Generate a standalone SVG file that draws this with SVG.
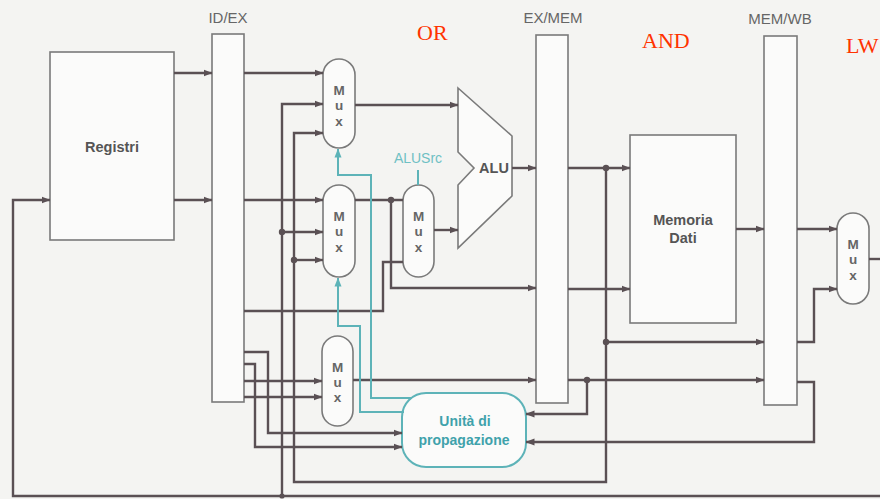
<svg xmlns="http://www.w3.org/2000/svg" width="880" height="499" viewBox="0 0 880 499">
<defs>
<style>
.w{fill:none;stroke:#5a5054;stroke-width:2.4;stroke-linejoin:miter}
.t{fill:none;stroke:#5db3b8;stroke-width:2}
.box{fill:#fbfbfa;stroke:#7a7a7a;stroke-width:1.6}
.dot{fill:#5a5054}
.sans{font-family:"Liberation Sans",Arial,sans-serif}
.lab{font-family:"Liberation Sans",Arial,sans-serif;font-size:15px;fill:#666;text-anchor:middle}
.bl{font-family:"Liberation Sans",Arial,sans-serif;font-size:14.5px;font-weight:bold;fill:#555;text-anchor:middle}
.mx{font-family:"Liberation Sans",Arial,sans-serif;font-size:13.5px;font-weight:bold;fill:#666;text-anchor:middle}
.red{font-family:"Liberation Serif","Times New Roman",serif;font-size:22px;fill:#ff3300}
.teal{font-family:"Liberation Sans",Arial,sans-serif;font-size:14px;font-weight:bold;fill:#3fa2ab;text-anchor:middle}
</style>
<marker id="a" markerUnits="userSpaceOnUse" markerWidth="9" markerHeight="8" refX="8.5" refY="4" orient="auto">
<path d="M0,0.5 L9,4 L0,7.5 z" fill="#5a5054"/>
</marker>
<marker id="at" markerUnits="userSpaceOnUse" markerWidth="9" markerHeight="8" refX="8.5" refY="4" orient="auto">
<path d="M0,0.5 L9,4 L0,7.5 z" fill="#5db3b8"/>
</marker>
</defs>
<rect x="0" y="0" width="880" height="499" fill="#f4f4f2"/>

<g id="labels">
<text class="lab" x="228" y="23">ID/EX</text>
<text class="lab" x="553" y="23">EX/MEM</text>
<text class="lab" x="780" y="24">MEM/WB</text>
<text class="red" x="417" y="40">OR</text>
<text class="red" x="642" y="48">AND</text>
<text class="red" x="846" y="53" font-size="21">LW</text>
</g>

<g id="registri">
<rect class="box" x="50" y="52" width="124" height="188"/>
<text class="bl" x="112" y="152">Registri</text>
</g>
<g id="idex"><rect class="box" x="212" y="34" width="32" height="368"/></g>
<g id="exmem"><rect class="box" x="536" y="35" width="32" height="368"/></g>
<g id="memwb"><rect class="box" x="764" y="36" width="33" height="369"/></g>
<g id="memoria">
<rect class="box" x="630" y="135" width="106" height="188"/>
<text class="bl" x="683" y="225">Memoria</text>
<text class="bl" x="683" y="243">Dati</text>
</g>
<g id="alu">
<polygon class="box" points="458,88 512,136 512,196 458,248 458,185 474,168 458,152"/>
<text class="bl" x="494" y="173">ALU</text>
</g>
<g id="mux1">
<rect class="box" x="323" y="59" width="32" height="89" rx="16"/>
<text class="mx" x="339" y="95">M</text><text class="mx" x="339" y="110">u</text><text class="mx" x="339" y="126">x</text>
</g>
<g id="mux2">
<rect class="box" x="323" y="185" width="32" height="92" rx="16"/>
<text class="mx" x="339" y="221">M</text><text class="mx" x="339" y="236">u</text><text class="mx" x="339" y="252">x</text>
</g>
<g id="mux4">
<rect class="box" x="403" y="185" width="31" height="92" rx="15.5"/>
<text class="mx" x="418.5" y="221">M</text><text class="mx" x="418.5" y="236">u</text><text class="mx" x="418.5" y="252">x</text>
</g>
<g id="mux3">
<rect class="box" x="322" y="336" width="31" height="90" rx="15.5"/>
<text class="mx" x="337.5" y="372">M</text><text class="mx" x="337.5" y="387">u</text><text class="mx" x="337.5" y="402">x</text>
</g>
<g id="muxwb">
<rect class="box" x="837" y="213" width="32" height="91" rx="16"/>
<text class="mx" x="853" y="249">M</text><text class="mx" x="853" y="264">u</text><text class="mx" x="853" y="280">x</text>
</g>
<g id="alusrc">
<text class="sans" x="418" y="163" font-size="14" fill="#6fc0c4" text-anchor="middle">ALUSrc</text>
</g>
<g id="forward">
<rect x="402" y="393" width="124" height="74" rx="24" fill="#fbfbfa" stroke="#5db3b8" stroke-width="2"/>
<text class="teal" x="465" y="426">Unità di</text>
<text class="teal" x="464" y="445">propagazione</text>
</g>

<g id="connectors">
<path class="w" d="M174,73 H212" marker-end="url(#a)"/>
<path class="w" d="M174,200 H212" marker-end="url(#a)"/>
<path class="w" d="M880,496 H13 V200 H50" marker-end="url(#a)"/>
<path class="w" d="M282,496 V104 H323" marker-end="url(#a)"/>
<path class="w" d="M282,232 H323" marker-end="url(#a)"/>
<path class="w" d="M606,168 V482 H294 V133 H323" marker-end="url(#a)"/>
<path class="w" d="M294,260 H323" marker-end="url(#a)"/>
<path class="w" d="M244,73 H323" marker-end="url(#a)"/>
<path class="w" d="M244,200 H323" marker-end="url(#a)"/>
<path class="w" d="M355,105 H458" marker-end="url(#a)"/>
<path class="w" d="M355,200 H403"/>
<path class="w" d="M391,200 V288 H536" marker-end="url(#a)"/>
<path class="w" d="M244,311 H383 V262 H403"/>
<path class="w" d="M434,230 H458" marker-end="url(#a)"/>
<path class="w" d="M512,168 H536" marker-end="url(#a)"/>
<path class="w" d="M244,381 H322" marker-end="url(#a)"/>
<path class="w" d="M244,397 H322" marker-end="url(#a)"/>
<path class="w" d="M353,380 H536" marker-end="url(#a)"/>
<path class="w" d="M244,352 H268 V433 H402" marker-end="url(#a)"/>
<path class="w" d="M244,364 H255 V447 H402" marker-end="url(#a)"/>
<path class="w" d="M568,168 H630" marker-end="url(#a)"/>
<path class="w" d="M568,289 H630" marker-end="url(#a)"/>
<path class="w" d="M606,342 H764" marker-end="url(#a)"/>
<path class="w" d="M568,380 H764" marker-end="url(#a)"/>
<path class="w" d="M587,380 V414 H526" marker-end="url(#a)"/>
<path class="w" d="M736,229 H764" marker-end="url(#a)"/>
<path class="w" d="M797,229 H837" marker-end="url(#a)"/>
<path class="w" d="M797,342 H814 V289 H837" marker-end="url(#a)"/>
<path class="w" d="M797,382 H814 V442 H526" marker-end="url(#a)"/>
<path class="w" d="M869,259 H880"/>
<path class="t" d="M412,398 H371 V175 H338 V149" marker-end="url(#at)"/>
<path class="t" d="M404,412 H360 V326 H338 V278" marker-end="url(#at)"/>
<path class="t" d="M418,170 V185"/>
<circle class="dot" cx="282" cy="232" r="3.2"/>
<circle class="dot" cx="294" cy="260" r="3.2"/>
<circle class="dot" cx="282" cy="496" r="2.6"/>
<circle class="dot" cx="391" cy="200" r="3.2"/>
<circle class="dot" cx="606" cy="168" r="3.2"/>
<circle class="dot" cx="606" cy="342" r="3.2"/>
<circle class="dot" cx="587" cy="380" r="3.2"/>
</g>
</svg>
